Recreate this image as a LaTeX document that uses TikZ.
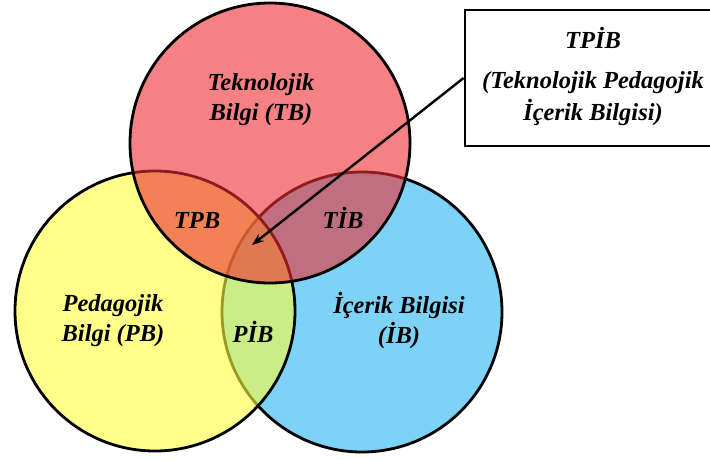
\documentclass[tikz,border=0pt]{standalone}
\usepackage{fontspec}
\setmainfont{Liberation Serif}
\usetikzlibrary{arrows.meta}

\definecolor{kirmizi}{RGB}{238,45,50}
\definecolor{sari}{RGB}{255,255,60}
\definecolor{mavi}{RGB}{125,210,247}

\begin{document}
\begin{tikzpicture}[
    x=1pt,y=-1pt,
    halka/.style={circle,draw=black,line width=2.8pt,minimum size=280pt,inner sep=0pt},
    etiket/.style={font=\fontsize{24.5}{30}\selectfont\bfseries\itshape,align=center,inner sep=0pt},
    ok/.style={-{Stealth[length=12pt,width=9pt]},line width=2.4pt}
  ]
  \useasboundingbox (0,0) rectangle (710,459);

  % daireler: mavi en altta, sonra sari, en ustte kirmizi
  \node[halka,fill=mavi] (ib) at (362,312) {};
  \node[halka,fill=sari,fill opacity=0.6] (pb) at (155,311) {};
  \node[halka,fill=kirmizi,fill opacity=0.6] (tb) at (270,143) {};

  % bilgi alanlari
  \node[etiket] (tbyazi) at (261,100) {Teknolojik\\Bilgi (TB)};
  \node[etiket] (pbyazi) at (113,321) {Pedagojik\\Bilgi (PB)};
  \node[etiket] (ibyazi) at (399,320) {İçerik Bilgisi\\(İB)};
  \node[etiket,anchor=base] (tpb) at (197,228) {TPB};
  \node[etiket,anchor=base] (tib) at (343,228) {TİB};
  \node[etiket,anchor=base] (pib) at (253,342) {PİB};

  % sag ustteki kutu
  \begin{scope}
    \clip (0,0) rectangle (710,459);
    \node[draw=black,line width=2.8pt,fill=white,minimum width=257pt,minimum height=136pt] (kutu) at (593.5,78) {};
  \end{scope}
  \node[etiket,font=\fontsize{24.5}{32}\selectfont\bfseries\itshape] (tpib) at (593,76)
    {TPİB\\[8pt](Teknolojik Pedagojik\\İçerik Bilgisi)};

  \coordinate (merkez) at (252,245);
  \draw[ok] (kutu.west) -- (merkez);
\end{tikzpicture}
\end{document}
